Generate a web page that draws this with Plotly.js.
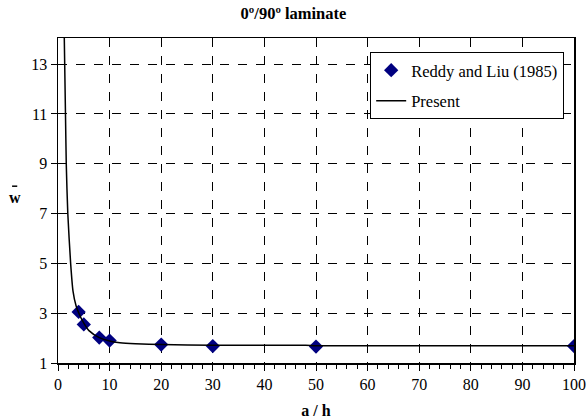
<!DOCTYPE html>
<html><head><meta charset="utf-8">
<script src="https://cdn.plot.ly/plotly-3.0.1.min.js"></script>
<style>html,body{margin:0;padding:0;background:#fff}</style>
</head><body><div id="chart" style="width:587px;height:419px"></div>
<script>
const reddyX = [4, 5, 8, 10, 20, 30, 50, 100];
const reddyY = [3.05, 2.55, 2.02, 1.9, 1.74, 1.68, 1.66, 1.68];
const presentX = [1.2, 1.45, 1.6, 1.9, 2.45, 2.9, 3.5, 4, 5, 6, 8, 10, 12, 15, 20, 30, 40, 48, 50, 60, 80, 100];
const presentY = [14.3, 11, 9, 7, 5, 3.9, 3.3, 3.02, 2.6, 2.3, 2.02, 1.88, 1.81, 1.77, 1.74, 1.71, 1.71, 1.71, 1.69, 1.69, 1.69, 1.69];
const xTicks = [0,10,20,30,40,50,60,70,80,90,100];
const yTicks = [1,3,5,7,9,11,13];

const serif = 'Liberation Serif';
const data = [
  {x: reddyX, y: reddyY, mode: 'markers', type: 'scatter', name: 'Reddy and Liu (1985)', legendgroup: 'a',
   marker: {symbol: 'diamond', size: 11, color: '#000080'}},
  {x: presentX, y: presentY, mode: 'lines', type: 'scatter', name: 'Present', legendgroup: 'b',
   line: {color: '#000', width: 1.5, shape: 'spline', smoothing: 0.6}}
];
const layout = {
  width: 587, height: 419,
  margin: {l: 58, r: 13, t: 38, b: 56},
  paper_bgcolor: '#fff', plot_bgcolor: '#fff',
  font: {family: serif, color: '#000', size: 16},
  title: {text: '<b>0º/90º laminate</b>', font: {size: 16.5, family: serif}, x: 0.5, xanchor: 'center', y: 0.968, yanchor: 'middle'},
  showlegend: true,
  legend: {x: 0.605, xanchor: 'left', y: 0.957, yanchor: 'top', bgcolor: '#fff', bordercolor: '#000', borderwidth: 1,
           font: {size: 16.5, family: serif}, tracegroupgap: 6, itemwidth: 30},
  xaxis: {range: [0, 100], tickvals: xTicks, ticktext: xTicks.map(String), showline: true, linecolor: '#000', linewidth: 1.5,
          mirror: true, ticks: 'outside', ticklen: 6, tickcolor: '#000', showgrid: true, gridcolor: '#000', griddash: 'dash', gridwidth: 1,
          minor: {dtick: 2, ticks: 'outside', ticklen: 4, tickcolor: '#000', showgrid: false},
          zeroline: false, title: {text: '<b>a / h</b>', font: {size: 16, family: serif}, standoff: 16}},
  yaxis: {range: [1, 14.05], tickvals: yTicks, ticktext: yTicks.map(String), showline: true, linecolor: '#000', linewidth: 1.5,
          mirror: true, ticks: 'outside', ticklen: 6, tickcolor: '#000', showgrid: true, gridcolor: '#000', griddash: 'dash', gridwidth: 1,
          zeroline: false},
  annotations: [
    {text: '<b>w</b>', xref: 'paper', yref: 'paper', x: -0.083, y: 0.508, xanchor: 'center', yanchor: 'middle', showarrow: false,
     font: {size: 16, family: serif}}
  ],
  shapes: [
    {type: 'line', xref: 'paper', yref: 'paper', x0: -0.089, x1: -0.079, y0: 0.544, y1: 0.544, line: {color: '#000', width: 1.5}}
  ]
};
Plotly.newPlot('chart', data, layout, {displayModeBar: false, staticPlot: true});
</script></body></html>
